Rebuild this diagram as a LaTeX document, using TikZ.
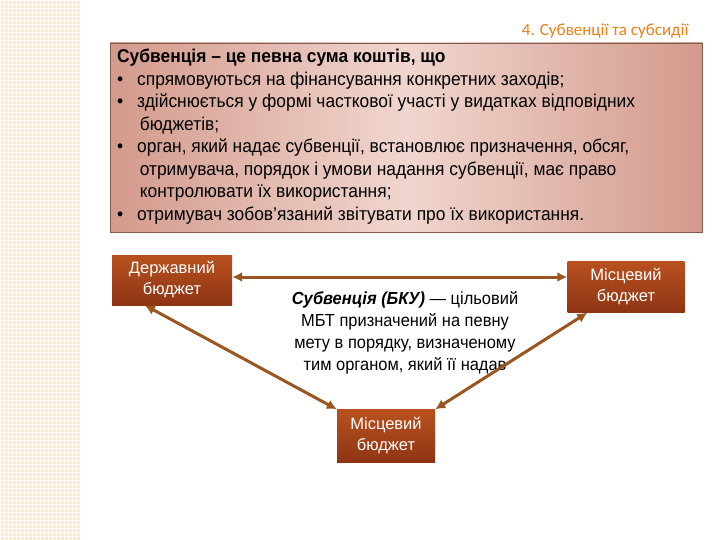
\documentclass[tikz,border=0pt]{standalone}
\usepackage{fontspec}
\setmainfont{Liberation Sans}
\newfontfamily\titlefont{Carlito}
\usetikzlibrary{arrows.meta}
\definecolor{bx1}{HTML}{D39A8C}
\definecolor{bx2}{HTML}{F0D6CE}
\definecolor{bud1}{HTML}{B8511F}
\definecolor{bud2}{HTML}{8E3414}
\definecolor{arr}{HTML}{9A5520}
\begin{document}
\begin{tikzpicture}[x=1pt,y=-1pt,
  bud/.style={draw=none,shading=axis,top color=bud1,bottom color=bud2,
    text=white,font=\fontsize{16.5}{21}\selectfont,align=center,minimum height=50,inner sep=1pt},
  conn/.style={draw=arr,line width=3pt,{Latex[length=10pt,width=10pt]}-{Latex[length=10pt,width=10pt]}}]
\useasboundingbox (0,0) rectangle (720,540);
\fill[white] (0,0) rectangle (720,540);
\fill[yellow!30!orange!20] (0,0) rectangle (80,540);
\foreach \y in {0,4,...,540} \draw[white,line width=0.8pt] (0,\y) -- (80,\y);
\foreach \x in {0,4,...,80} \draw[white,line width=0.8pt] (\x,0) -- (\x,540);
\node[anchor=east,text=orange!70!brown,font=\titlefont\fontsize{17}{20}\selectfont] (title) at (692,31) {4. Субвенції та субсидії};
\shade[left color=bx1,right color=bx1,middle color=bx2] (110,43) rectangle (702,232);
\draw[bx1!60!black,line width=0.8pt] (110,43) rectangle (702,232);
\node[anchor=north west,align=left,font=\fontsize{18.5}{22.5}\selectfont,inner sep=0pt,xscale=0.94,transform shape] (defn) at (117,49) {%
\textbf{Субвенція – це певна сума коштів, що}\\
\textbullet\hspace{0.8em}спрямовуються на фінансування конкретних заходів;\\
\textbullet\hspace{0.8em}здійснюється у формі часткової участі у видатках відповідних\\
\hspace{1.3em}бюджетів;\\
\textbullet\hspace{0.8em}орган, який надає субвенції, встановлює призначення, обсяг,\\
\hspace{1.3em}отримувача, порядок і умови надання субвенції, має право\\
\hspace{1.3em}контролювати їх використання;\\
\textbullet\hspace{0.8em}отримувач зобов'язаний звітувати про їх використання.};
\node[bud,minimum width=120] (db) at (172,280) {Державний\\бюджет};
\node[bud,minimum width=117,minimum height=51] (mr) at (626,287) {Місцевий\\бюджет};
\node[bud,minimum width=98,minimum height=53] (mb) at (386,436) {Місцевий\\бюджет};
\node[align=center,font=\fontsize{17.5}{22}\selectfont,xscale=0.94,transform shape] (txt) at (405,333) {\textbf{\textit{Субвенція (БКУ)}} — цільовий\\МБТ призначений на певну\\мету в порядку, визначеному\\тим органом, який її надав};
\draw[conn] (db.east |- 0,277) -- (mr.west |- 0,277);
\draw[conn] (db.south west) ++(33,0) coordinate (a) (a) -- (mb.north west);
\draw[conn] (mr.south west) ++(20,0) coordinate (b) (b) -- (mb.north east);
\end{tikzpicture}
\end{document}
